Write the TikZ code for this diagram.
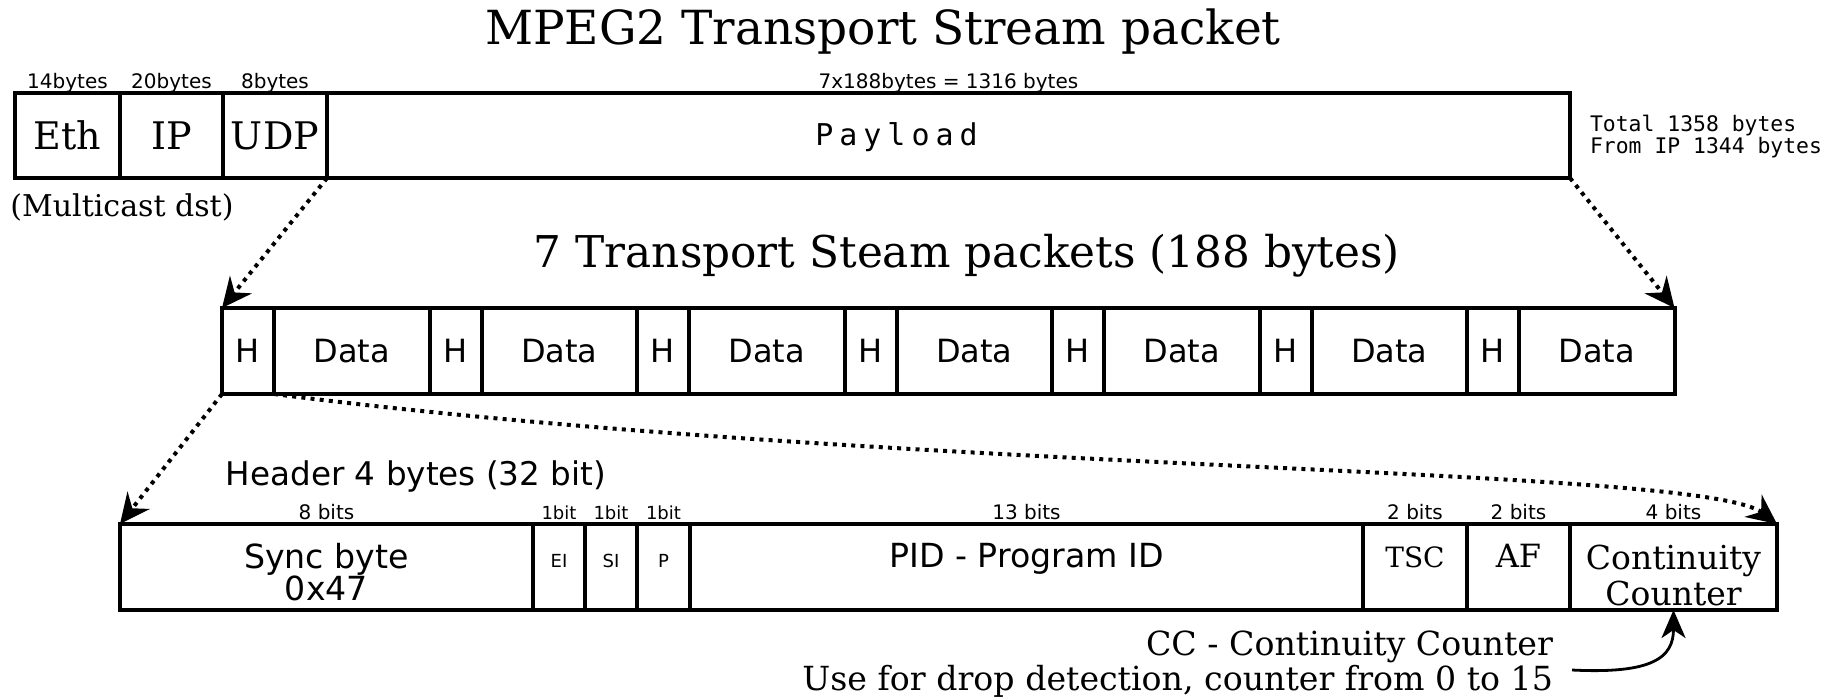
\documentclass[tikz,border=0pt]{standalone}
\usepackage{fontspec}
\setmainfont{DejaVu Serif}
\setsansfont{DejaVu Sans}
\setmonofont{DejaVu Sans Mono}
\usetikzlibrary{arrows.meta}

\newcommand{\fsz}[2]{\fontsize{#1}{#2}\selectfont}

\begin{document}
\begin{tikzpicture}[x=0.5pt,y=-0.5pt,
        fld/.style={draw,line width=2pt,inner sep=0pt,outer sep=0pt,minimum height=43pt},
        up/.style={text height=12pt,text depth=12pt},
        sz/.style={font=\sffamily\fsz{10}{12},inner sep=1pt,text depth=2.5pt,yshift=-1.5pt},
        tiny/.style={font=\sffamily\fsz{9}{11},inner sep=1pt,text depth=2.5pt,yshift=-1.5pt},
        dots/.style={line width=2pt,dash pattern=on 2pt off 2.6pt,-{Stealth[length=15pt,width=14pt,inset=5pt]}}]
    \useasboundingbox (0,0) rectangle (1834,697);

    % ethernet frame
    \node (title) at (883,32) {\fsz{23.5}{28}MPEG2 Transport Stream packet};
    \node[fld,minimum height=42.5pt,minimum width=52.5pt,font=\fsz{19}{22},label={[sz]above:14bytes}] (eth) at (67.5,135.5) {Eth};
    \node[fld,minimum height=42.5pt,minimum width=51.5pt,font=\fsz{19}{22},label={[sz]above:20bytes}] (ip) at (171.5,135.5) {IP};
    \node[fld,minimum height=42.5pt,minimum width=52pt,font=\fsz{19}{22},label={[sz]above:8bytes}] (udp) at (275,135.5) {UDP};
    \node[fld,minimum height=42.5pt,minimum width=621.5pt,label={[sz]above:7x188bytes = 1316 bytes},
          label={[font=\ttfamily\fsz{15}{18}\addfontfeature{LetterSpace=20},xshift=-26pt,yshift=-1pt]center:Payload}] (payload) at (948.5,135.5) {};
    \node[anchor=west,align=left,font=\ttfamily\fsz{10.7}{11}] (total) at (1583,137) {Total 1358 bytes\\From IP 1344 bytes};
    \node[font=\fsz{15}{18}] (mcast) at (122,207) {(Multicast dst)};

    % transport stream packets
    \node (tstitle) at (967,256) {\fsz{21.9}{26}7 Transport Steam packets (188 bytes)};
    \foreach \i in {0,...,6} {
        \node[fld,minimum width=26pt,font=\sffamily\fsz{16}{19}] (h\i) at (248+207.5*\i,351) {H};
        \node[fld,minimum width=77.75pt,font=\sffamily\fsz{16}{19}] (d\i) at (351.75+207.5*\i,351) {Data};
    }
    \draw[dots] (udp.south east) -- (h0.north west);
    \draw[dots] (payload.south east) -- (d6.north east);

    % header fields
    \node[font=\sffamily\fsz{16.3}{19}] (hdr) at (416,476) {Header 4 bytes (32 bit)};
    \node[fld,minimum width=206.5pt,label={[sz]above:8 bits},
          label={[font=\sffamily\fsz{16.6}{14},align=center,yshift=-2.6pt]center:Sync byte\\[-1pt]0x47}] (sync) at (326.5,567) {};
    \node[fld,up,minimum width=26pt,font=\sffamily\fsz{9}{11},label={[tiny]above:1bit}] (ei) at (559,567) {EI};
    \node[fld,up,minimum width=26pt,font=\sffamily\fsz{9}{11},label={[tiny]above:1bit}] (si) at (611,567) {SI};
    \node[fld,up,minimum width=26.5pt,font=\sffamily\fsz{9}{11},label={[tiny]above:1bit}] (pf) at (663.5,567) {P};
    \node[fld,up,minimum width=336.5pt,font=\sffamily\fsz{16.6}{19},label={[sz]above:13 bits}] (pid) at (1026.5,567) {PID - Program ID};
    \node[fld,up,minimum width=52pt,font=\fsz{14}{17},label={[sz]above:2 bits}] (tsc) at (1415,567) {TSC};
    \node[fld,up,minimum width=51.5pt,font=\fsz{16}{19},label={[sz]above:2 bits}] (af) at (1518.5,567) {AF};
    \node[fld,minimum width=103.5pt,label={[sz]above:4 bits},
          label={[font=\fsz{16.5}{18},align=center,yshift=-4pt]center:Continuity\\Counter}] (cc) at (1673.5,567) {};
    \draw[dots] (h0.south west) -- (sync.north west);
    \draw[dots] (h0.south east) .. controls +(626,80) and +(-77,-59) .. (cc.north east);

    % note on the counter
    \node[anchor=east,align=right,font=\fsz{16.6}{15.5}] (ccnote) at (1560,664) {CC - Continuity Counter\\Use for drop detection, counter from 0 to 15};
    \coordinate (ccfrom) at (1572,670);
    \draw[line width=1.4pt,-{Stealth[length=14pt,width=12pt,inset=4pt]}] (ccfrom) .. controls +(80,4) and +(0,48) .. (cc.south);
\end{tikzpicture}
\end{document}
